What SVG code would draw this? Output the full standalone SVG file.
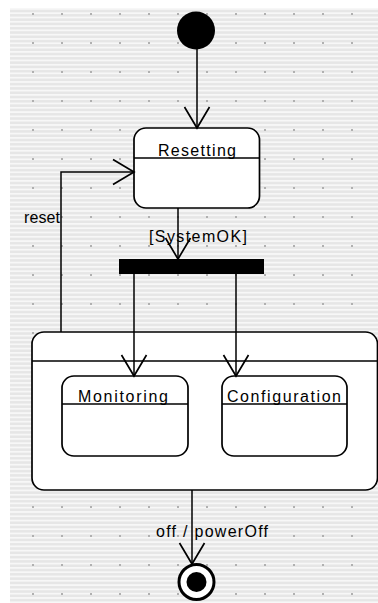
<svg xmlns="http://www.w3.org/2000/svg" width="378" height="603" viewBox="0 0 378 603">
<style>
.state{fill:#fff;stroke:#000;stroke-width:1.7}
.div{stroke:#000;stroke-width:1.5}
.edge{fill:none;stroke:#000;stroke-width:1.5}
.lbl{font-family:"Liberation Sans",Arial,sans-serif;font-size:16px;fill:#000}
</style>
<defs>
<pattern id="stripes" patternUnits="userSpaceOnUse" width="4" height="4.3" x="0" y="8">
<rect width="4" height="4.3" fill="#e6e6e6"/>
<rect y="0" width="4" height="1.8" fill="#f7f7f7"/>
</pattern>
<pattern id="dots" patternUnits="userSpaceOnUse" width="29" height="29" x="32" y="13">
<rect width="2" height="2" fill="#b0b0b0"/>
</pattern>
<marker id="arr" markerUnits="userSpaceOnUse" markerWidth="30" markerHeight="30" viewBox="-24 -15 26 30" refX="0" refY="0" orient="auto">
<path d="M-21,-12.5 L0,0 L-21,12.5" fill="none" stroke="#000" stroke-width="1.7"/>
</marker>
</defs>
<rect x="10" y="8" width="368" height="595" fill="url(#stripes)"/>
<rect x="10" y="8" width="368" height="595" fill="url(#dots)"/>

<g id="initial"><circle cx="196" cy="30.5" r="19" fill="#000"/></g>

<g id="resetting">
<rect class="state" x="134" y="128" width="125.5" height="80" rx="12"/>
<line class="div" x1="134" y1="158" x2="259.5" y2="158"/>
<text class="lbl" x="158" y="156" textLength="78" lengthAdjust="spacing">Resetting</text>
</g>

<g id="fork"><rect x="119" y="259" width="145" height="15" fill="#000"/></g>

<g id="composite">
<rect class="state" x="32" y="332" width="345.5" height="158" rx="12"/>
<line class="div" x1="32" y1="361" x2="377.5" y2="361"/>
</g>

<g id="monitoring">
<rect class="state" x="62" y="376" width="126" height="80" rx="12"/>
<line class="div" x1="62" y1="404" x2="188" y2="404"/>
<text class="lbl" x="78" y="402" textLength="90" lengthAdjust="spacing">Monitoring</text>
</g>

<g id="configuration">
<rect class="state" x="222" y="376" width="125" height="80" rx="12"/>
<line class="div" x1="222" y1="404" x2="347" y2="404"/>
<text class="lbl" x="227" y="402" textLength="114" lengthAdjust="spacing">Configuration</text>
</g>

<g id="final">
<circle cx="196.5" cy="582" r="17.5" fill="#fff" stroke="#000" stroke-width="3"/>
<circle cx="196.5" cy="582" r="10" fill="#000"/>
</g>

<g id="connectors">
<line class="edge" x1="197" y1="49" x2="197" y2="128" marker-end="url(#arr)"/>
<polyline class="edge" points="61,332 61,172 134,172" marker-end="url(#arr)"/>
<text class="lbl" x="24" y="223" textLength="36" lengthAdjust="spacing">reset</text>
<line class="edge" x1="178" y1="208" x2="178" y2="259" marker-end="url(#arr)"/>
<text class="lbl" x="149" y="242" textLength="98" lengthAdjust="spacing">[SystemOK]</text>
<line class="edge" x1="134" y1="274" x2="134" y2="376" marker-end="url(#arr)"/>
<line class="edge" x1="236" y1="274" x2="236" y2="376" marker-end="url(#arr)"/>
<line class="edge" x1="192" y1="490" x2="192" y2="564" marker-end="url(#arr)"/>
<text class="lbl" x="156" y="537" textLength="112" lengthAdjust="spacing">off / powerOff</text>
</g>
</svg>
